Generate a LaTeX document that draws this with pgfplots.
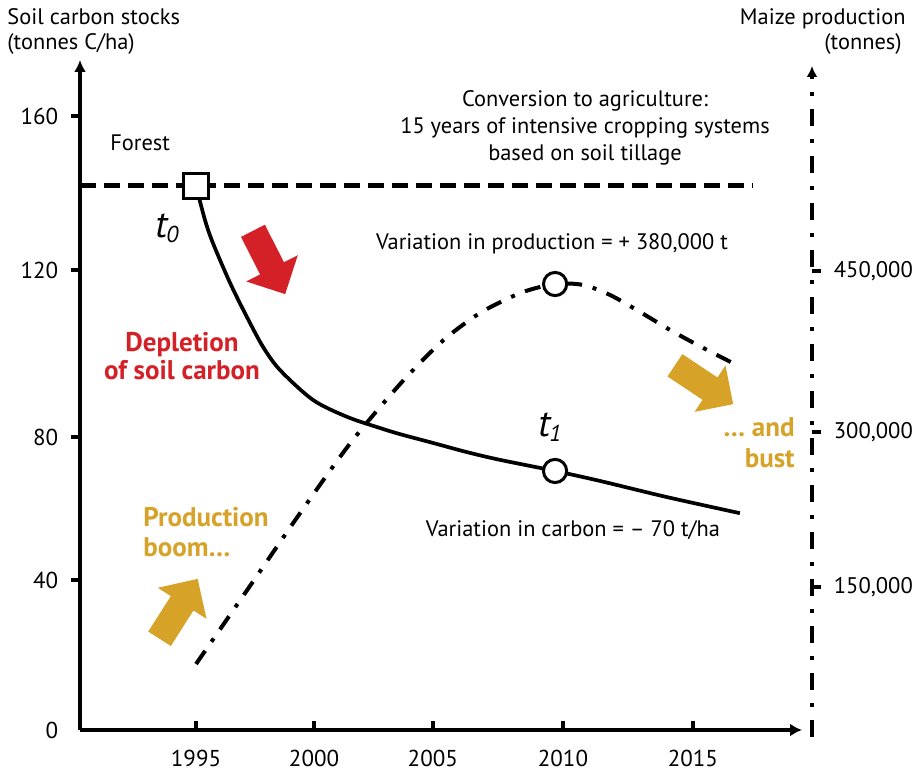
\documentclass[border=0pt]{standalone}
\usepackage{fontspec}
\setmainfont{PT Sans}
\usepackage{pgfplots}
\usepackage{pgfplotstable}
\pgfplotsset{compat=1.18}
\usetikzlibrary{arrows.meta,shapes.arrows}
\definecolor{dred}{RGB}{212,33,40}
\definecolor{dgold}{RGB}{214,162,40}

\pgfplotstableread{
x y
1995.00 141.8
1995.36 132.9
1995.68 126.9
1996.37 116.5
1997.05 107.6
1997.70 99.8
1998.38 93.8
1999.71 86.0
2001.08 81.6
2002.40 78.7
2003.21 77.1
2004.54 74.8
2005.91 72.4
2007.23 70.4
2009.45 67.5
2011.26 64.9
2013.95 60.7
2016.89 56.5
}\carbon

\pgfplotstableread{
x y
1995.00 64500
1997.17 140700
1999.19 212000
2001.20 280000
2003.21 338000
2004.82 378000
2006.03 401000
2006.83 413000
2008.16 428000
2009.45 435800
2010.57 434900
2011.66 425100
2012.87 408500
2014.07 391000
2015.28 375000
2016.81 356000
}\maize

\begin{document}
\fontsize{11.2}{13.4}\selectfont
\begin{tikzpicture}
\useasboundingbox (-40pt,-20pt) rectangle (420pt,365pt);

% x axis and carbon series
\begin{axis}[
  scale only axis, width=361pt, height=335pt,
  xmin=1990.33, xmax=2019.39, ymin=0, ymax=174.6,
  axis x line=bottom, axis y line=none, clip=false,
  x axis line style={line width=2.3pt, -{Latex[length=6pt,width=6.5pt]}},
  xtick={1995,1999.75,2004.53,2009.77,2015},
  xticklabels={\mbox{1995},\mbox{2000},\mbox{2005},\mbox{2010},\mbox{2015}},
  tick align=inside, major tick length=4.5pt,
  tick style={line width=2pt, black},
  xticklabel style={font=\fontsize{11.5}{13}\selectfont, inner ysep=0.8pt, yshift=-9pt},
]
\addplot[line width=2.6pt, dash pattern=on 8pt off 4pt] coordinates {(1990.33,141.8) (2017.41,141.8)};
\addplot[line width=1.85pt, smooth, tension=0.5] table {\carbon};
\addplot[only marks, mark=square*, mark size=6.2pt, mark options={fill=white, draw=black, line width=1.6pt}] coordinates {(1995,141.8)};
\addplot[only marks, mark=*, mark size=5.8pt, mark options={fill=white, draw=black, line width=1.5pt}] coordinates {(2009.45,67.5)};
\end{axis}

% left y axis
\begin{axis}[
  scale only axis, width=361pt, height=335pt,
  xmin=1990.33, xmax=2019.39, ymin=0, ymax=174.6,
  axis x line=none, axis y line=left,
  y axis line style={line width=2.3pt, -{Latex[length=6pt,width=6pt]}},
  ytick={39.09,76.35,119.87,160},
  yticklabels={\mbox{40},\mbox{80},\mbox{120},\mbox{160}},
  extra y ticks={0}, extra y tick labels={\mbox{0}},
  extra y tick style={tick style={draw=none}},
  tick align=outside, major tick length=4.5pt,
  tick style={line width=2pt, black},
  yticklabel style={font=\fontsize{11.5}{13}\selectfont, xshift=-2.5pt},
]
\end{axis}

% right y axis and maize series
\begin{axis}[
  at={(0pt,-3.5pt)},
  scale only axis, width=366pt, height=335.5pt,
  xmin=1990.33, xmax=2019.79, ymin=-6840, ymax=648860,
  axis x line=none, axis y line=right, clip=false,
  y axis line style={line width=2pt, dash pattern=on 8.5pt off 6.5pt on 2pt off 6.5pt, -{Latex[length=5.5pt,width=5.5pt]}},
  ytick={139930,290720,448530},
  yticklabels={{\mbox{150,000}},{\mbox{300,000}},{\mbox{450,000}}},
  tick align=outside, major tick length=4.5pt,
  tick style={line width=2pt, black, solid},
  yticklabel style={font=\fontsize{11.3}{13}\selectfont, xshift=2.5pt},
]
\addplot[line width=2pt, smooth, tension=0.5, dash pattern=on 8pt off 5.5pt on 2pt off 5.5pt] table {\maize};
\addplot[only marks, mark=*, mark size=5.8pt, mark options={fill=white, draw=black, line width=1.5pt, solid}] coordinates {(2009.45,435800)};
\end{axis}

\begin{scope}[x=0.5pt,y=-0.5pt,shift={(-40pt,365pt)}]
\node[anchor=base west, inner sep=0] at (7,25) {Soil carbon stocks};
\node[anchor=base west, inner sep=0] at (7,50) {(tonnes C/ha)};
\node[anchor=base east, inner sep=0] at (906,25) {Maize production};
\node[anchor=base east, inner sep=0] at (902,50) {(tonnes)};
\node[anchor=base west, inner sep=0] at (110,151) {Forest};
\node[anchor=base west, inner sep=0] at (155,238) {\fontsize{19}{19}\selectfont\itshape t\kern-0.5pt\raisebox{-2.5pt}{\fontsize{11.5}{11.5}\selectfont\itshape 0}};
\node[anchor=base west, inner sep=0] at (538,437) {\fontsize{19}{19}\selectfont\itshape t\kern-0.5pt\raisebox{-2.5pt}{\fontsize{11.5}{11.5}\selectfont\itshape 1}};
\node[anchor=base, inner sep=0] at (585,107) {Conversion to agriculture:};
\node[anchor=base, inner sep=0] at (585,134) {15 years of intensive cropping systems};
\node[anchor=base, inner sep=0] at (585,161) {based on soil tillage};
\node[anchor=base, inner sep=0] at (552,250) {Variation in production = + 380,000 t};
\node[anchor=base, inner sep=0] at (573,537) {Variation in carbon = – 70 t/ha};
\node[anchor=base, inner sep=0, text=dred, font=\fontsize{13.5}{15}\selectfont\bfseries] at (182,352) {Depletion};
\node[anchor=base, inner sep=0, text=dred, font=\fontsize{13.5}{15}\selectfont\bfseries] at (182,380) {of soil carbon};
\node[anchor=base west, inner sep=0, text=dgold, font=\fontsize{13.5}{15}\selectfont\bfseries] at (143,527) {Production};
\node[anchor=base west, inner sep=0, text=dgold, font=\fontsize{13.5}{15}\selectfont\bfseries] at (143,557) {boom…};
\node[anchor=base east, inner sep=0, text=dgold, font=\fontsize{13.5}{15}\selectfont\bfseries] at (795,437) {… and};
\node[anchor=base east, inner sep=0, text=dgold, font=\fontsize{13.5}{15}\selectfont\bfseries] at (795,468) {bust};
% block arrows
\node[single arrow, fill=dred, draw=none, inner xsep=0pt, inner ysep=6.5pt, minimum height=35.5pt, single arrow head extend=7.75pt, rotate=-63] at (266,256.5) {};
\node[single arrow, fill=dgold, draw=none, inner xsep=0pt, inner ysep=6.5pt, minimum height=35.5pt, single arrow head extend=7.75pt, rotate=57.5] at (175,614.5) {};
\node[single arrow, fill=dgold, draw=none, inner xsep=0pt, inner ysep=6.5pt, minimum height=35pt, single arrow head extend=7.25pt, rotate=-33.7] at (698.5,381) {};
\end{scope}
\end{tikzpicture}
\end{document}
